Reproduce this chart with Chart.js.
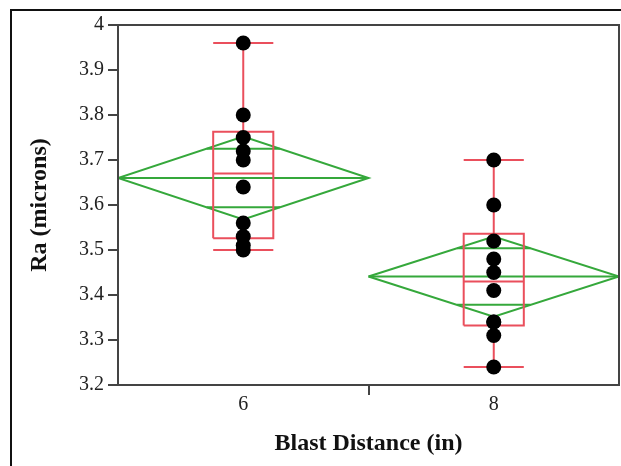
<!DOCTYPE html>
<html>
<head>
<meta charset="utf-8">
<script src="https://cdn.jsdelivr.net/npm/chart.js@4.4.1/dist/chart.umd.min.js"></script>
<style>
  body { margin: 0; background: #fff; overflow: hidden; }
  #wrap { position: relative; width: 621px; height: 466px; overflow: hidden; }
  #frame { position: absolute; left: 10px; top: 9px; width: 640px; height: 480px;
           border-left: 2px solid #111; border-top: 2px solid #111; pointer-events: none; }
</style>
</head>
<body>
<div id="wrap">
  <canvas id="raChart" width="621" height="466"></canvas>
  <div id="frame"></div>
</div>
<script>
// blast distance groups (in)
const categories = [6, 8];
const xLabels = ['6', '8'];

// Ra readings per blast distance
const ra6 = [3.96, 3.80, 3.75, 3.72, 3.70, 3.64, 3.56, 3.53, 3.51, 3.50];
const ra8 = [3.70, 3.60, 3.52, 3.48, 3.45, 3.41, 3.34, 3.34, 3.31, 3.24];

// quantile boxes
const q1 = [3.526, 3.332];
const medians = [3.670, 3.430];
const q3 = [3.763, 3.536];

// means diamonds (mean +/- 95% CI)
const means = [3.660, 3.441];
const ci95 = [0.092, 0.089];

const yTicks = [3.2, 3.3, 3.4, 3.5, 3.6, 3.7, 3.8, 3.9, 4];
const yTickLabels = ['3.2', '3.3', '3.4', '3.5', '3.6', '3.7', '3.8', '3.9', '4'];

const groups = [ra6, ra8];
const boxHalf = 0.24;   // box width in x units
const cellHalf = 1;     // each group owns one unit either side

const RED = '#ea4f5c';
const GREEN = '#35a83b';

function path(pts, color) {
  return {
    type: 'line',
    data: pts.map(p => ({ x: p[0], y: p[1] })),
    borderColor: color,
    borderWidth: 2,
    pointRadius: 0,
    fill: false,
    tension: 0
  };
}

const pointSets = groups.map((vals, i) => ({
  type: 'scatter',
  data: vals.map(v => ({ x: categories[i], y: v })),
  backgroundColor: '#000',
  borderWidth: 0,
  pointRadius: 7.5
}));

const boxSets = [];
const diamondSets = [];
categories.forEach((c, i) => {
  const lo = Math.min(...groups[i]);
  const hi = Math.max(...groups[i]);
  // box, median, whiskers and caps
  boxSets.push(path([[c - boxHalf, q1[i]], [c + boxHalf, q1[i]], [c + boxHalf, q3[i]],
                     [c - boxHalf, q3[i]], [c - boxHalf, q1[i]]], RED));
  boxSets.push(path([[c - boxHalf, medians[i]], [c + boxHalf, medians[i]]], RED));
  boxSets.push(path([[c, q3[i]], [c, hi]], RED));
  boxSets.push(path([[c, q1[i]], [c, lo]], RED));
  boxSets.push(path([[c - boxHalf, hi], [c + boxHalf, hi]], RED));
  boxSets.push(path([[c - boxHalf, lo], [c + boxHalf, lo]], RED));

  // diamond, mean line and overlap marks
  const m = means[i], d = ci95[i];
  diamondSets.push(path([[c - cellHalf, m], [c, m + d], [c + cellHalf, m], [c, m - d],
                         [c - cellHalf, m]], GREEN));
  diamondSets.push(path([[c - cellHalf, m], [c + cellHalf, m]], GREEN));
  const ov = d / Math.SQRT2;
  const w = cellHalf * (1 - 1 / Math.SQRT2);
  diamondSets.push(path([[c - w, m + ov], [c + w, m + ov]], GREEN));
  diamondSets.push(path([[c - w, m - ov], [c + w, m - ov]], GREEN));
});

// plot frame around the chart area
const plotFrame = {
  id: 'plotFrame',
  afterDraw(chart) {
    const { ctx, chartArea: a } = chart;
    ctx.save();
    ctx.strokeStyle = '#444';
    ctx.lineWidth = 2;
    ctx.strokeRect(a.left, a.top, a.right - a.left, a.bottom - a.top);
    ctx.restore();
  }
};

const serif = 'Liberation Serif';

new Chart(document.getElementById('raChart'), {
  type: 'scatter',
  data: { datasets: [...pointSets, ...boxSets, ...diamondSets] },
  options: {
    responsive: false,
    animation: false,
    layout: { autoPadding: false, padding: { top: 25, right: 2, left: 0, bottom: 0 } },
    plugins: { legend: { display: false }, tooltip: { enabled: false } },
    scales: {
      x: {
        type: 'linear',
        min: categories[0] - cellHalf,
        max: categories[categories.length - 1] + cellHalf,
        afterBuildTicks: s => {
          s.ticks = [5, 6, 7, 8, 9].map(v => ({ value: v }));
        },
        afterFit: s => {
          s.height = 81;
          s.paddingLeft = 0;
          s.paddingRight = 0;
        },
        border: { display: false },
        grid: {
          drawOnChartArea: false,
          tickLength: 10,
          lineWidth: 2,
          tickColor: ctx => (ctx.tick && ctx.tick.value === 7 ? '#444' : 'rgba(0,0,0,0)')
        },
        ticks: {
          autoSkip: false,
          maxRotation: 0,
          padding: 0,
          color: '#222',
          font: { family: serif, size: 20, lineHeight: 1 },
          callback: v => {
            const k = categories.indexOf(v);
            return k >= 0 ? xLabels[k] : '';
          }
        },
        title: {
          display: true,
          text: 'Blast Distance (in)',
          color: '#111',
          font: { family: serif, size: 24, weight: 'bold', lineHeight: 1.2 },
          padding: { top: 0, bottom: 8 }
        }
      },
      y: {
        min: 3.2,
        max: 4,
        afterBuildTicks: s => { s.ticks = yTicks.map(v => ({ value: v })); },
        afterFit: s => { s.width = 118; },
        border: { display: false },
        grid: {
          drawOnChartArea: false,
          tickLength: 10,
          lineWidth: 2,
          tickColor: '#444'
        },
        ticks: {
          padding: 4,
          color: '#222',
          font: { family: serif, size: 20 },
          callback: (v, i) => yTickLabels[i]
        },
        title: {
          display: true,
          text: 'Ra (microns)',
          color: '#111',
          font: { family: serif, size: 24, weight: 'bold', lineHeight: 1.2 },
          padding: { top: 25.6, bottom: 0 }
        }
      }
    }
  },
  plugins: [plotFrame]
});
</script>
</body>
</html>
